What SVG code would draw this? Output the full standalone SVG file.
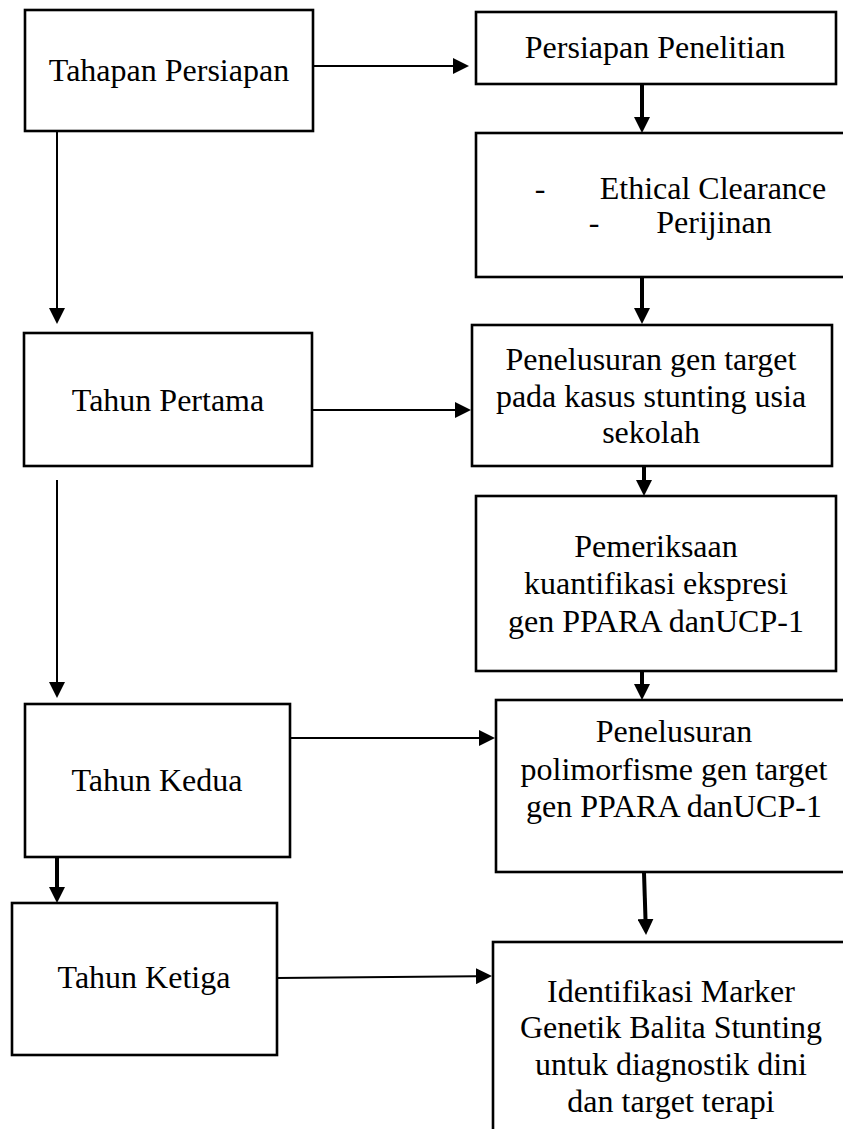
<svg xmlns="http://www.w3.org/2000/svg" width="843" height="1129" viewBox="0 0 843 1129">
  <style>
    .box { fill: #ffffff; stroke: #000000; stroke-width: 2.6; }
    .lbl { font-family: "Liberation Serif", "Times New Roman", serif; font-size: 32px; fill: #000000; text-anchor: middle; }
    .thin { fill: none; stroke: #000000; stroke-width: 2; marker-end: url(#ah); }
    .thick { fill: none; stroke: #000000; stroke-width: 4; marker-end: url(#ah); }
  </style>
  <defs>
    <marker id="ah" markerUnits="userSpaceOnUse" markerWidth="16" markerHeight="16" refX="0" refY="8" orient="auto">
      <path d="M0,0 L16,8 L0,16 Z" fill="#000000"/>
    </marker>
  </defs>
  <rect x="0" y="0" width="843" height="1129" fill="#ffffff"/>

  <g id="connectors">
    <line class="thin" x1="313" y1="66" x2="453" y2="66"/>
    <line class="thick" x1="642" y1="85" x2="642" y2="117"/>
    <line class="thick" x1="642" y1="278" x2="642" y2="308"/>
    <line class="thin" x1="57" y1="132" x2="57" y2="308"/>
    <line class="thin" x1="312" y1="410" x2="455" y2="410"/>
    <line class="thick" x1="644" y1="467" x2="644" y2="480"/>
    <line class="thin" x1="57" y1="480" x2="57" y2="682"/>
    <line class="thick" x1="642" y1="672" x2="642" y2="684"/>
    <line class="thin" x1="290" y1="738" x2="479" y2="738"/>
    <line class="thick" x1="57" y1="857" x2="57" y2="887"/>
    <line class="thick" x1="644" y1="873" x2="645.5" y2="919"/>
    <line class="thin" x1="277" y1="978" x2="476" y2="976.2"/>
  </g>

  <g id="tahapan-persiapan">
    <rect class="box" x="25" y="10" width="288" height="121"/>
    <text class="lbl" x="169" y="81">Tahapan Persiapan</text>
  </g>

  <g id="persiapan-penelitian">
    <rect class="box" x="476" y="12" width="360" height="72"/>
    <text class="lbl" x="655" y="58">Persiapan Penelitian</text>
  </g>

  <g id="ethical-clearance">
    <rect class="box" x="476" y="133" width="380" height="144"/>
    <text class="lbl" x="540" y="199">-</text>
    <text class="lbl" x="713" y="199">Ethical Clearance</text>
    <text class="lbl" x="594" y="233">-</text>
    <text class="lbl" x="714" y="233">Perijinan</text>
  </g>

  <g id="tahun-pertama">
    <rect class="box" x="24" y="333" width="288" height="133"/>
    <text class="lbl" x="168" y="411">Tahun Pertama</text>
  </g>

  <g id="penelusuran-gen-target">
    <rect class="box" x="472" y="325" width="360" height="141"/>
    <text class="lbl" x="651" y="370">Penelusuran gen target</text>
    <text class="lbl" x="651" y="407">pada kasus stunting usia</text>
    <text class="lbl" x="651" y="443">sekolah</text>
  </g>

  <g id="pemeriksaan">
    <rect class="box" x="476" y="496" width="360" height="175"/>
    <text class="lbl" x="656" y="557">Pemeriksaan</text>
    <text class="lbl" x="656" y="594">kuantifikasi ekspresi</text>
    <text class="lbl" x="656" y="632">gen PPARA danUCP-1</text>
  </g>

  <g id="tahun-kedua">
    <rect class="box" x="25" y="704" width="265" height="153"/>
    <text class="lbl" x="157" y="791">Tahun Kedua</text>
  </g>

  <g id="penelusuran-polimorfisme">
    <rect class="box" x="496" y="700" width="360" height="172"/>
    <text class="lbl" x="674" y="742">Penelusuran</text>
    <text class="lbl" x="674" y="780">polimorfisme gen target</text>
    <text class="lbl" x="674" y="817">gen PPARA danUCP-1</text>
  </g>

  <g id="tahun-ketiga">
    <rect class="box" x="12" y="903" width="265" height="152"/>
    <text class="lbl" x="144" y="988">Tahun Ketiga</text>
  </g>

  <g id="identifikasi-marker">
    <rect class="box" x="493" y="942" width="370" height="200"/>
    <text class="lbl" x="671" y="1002">Identifikasi Marker</text>
    <text class="lbl" x="671" y="1038">Genetik Balita Stunting</text>
    <text class="lbl" x="671" y="1075">untuk diagnostik dini</text>
    <text class="lbl" x="671" y="1112">dan target terapi</text>
  </g>
</svg>
